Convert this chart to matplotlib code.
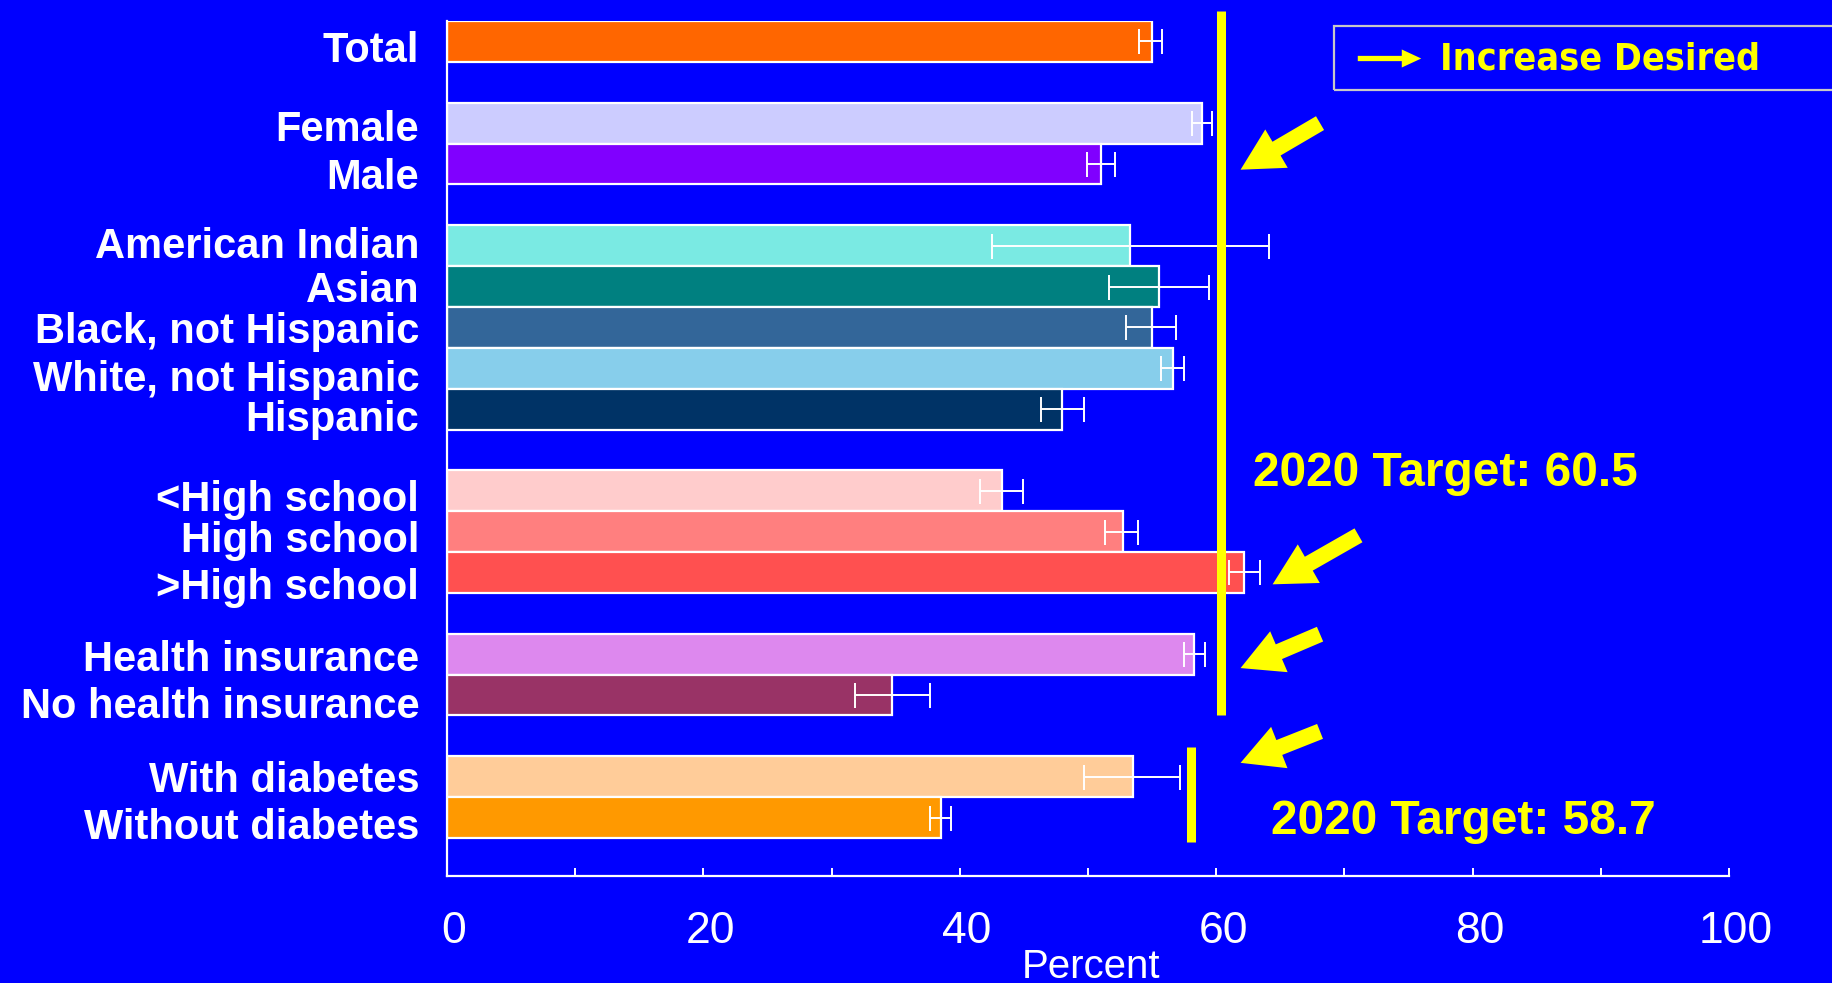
import matplotlib
matplotlib.use("Agg")
import matplotlib.pyplot as plt
import matplotlib.transforms as mtransforms
from matplotlib.patches import Rectangle, FancyArrowPatch
import numpy as np

# ---- data ----
categories = ["Total", "Female", "Male", "American Indian", "Asian",
              "Black, not Hispanic", "White, not Hispanic", "Hispanic",
              "<High school", "High school", ">High school",
              "Health insurance", "No health insurance",
              "With diabetes", "Without diabetes"]
positions = [0, 2, 3, 5, 6, 7, 8, 9, 11, 12, 13, 15, 16, 18, 19]
values = [55.0, 58.9, 51.0, 53.3, 55.5, 55.0, 56.6, 48.0,
          43.3, 52.7, 62.2, 58.3, 34.7, 53.5, 38.5]
ci_low = [54.0, 58.1, 49.9, 42.5, 51.6, 53.0, 55.7, 46.3,
          41.6, 51.3, 61.0, 57.5, 31.8, 49.7, 37.7]
ci_high = [55.8, 59.7, 52.1, 64.1, 59.4, 56.9, 57.5, 49.7,
           44.9, 53.9, 63.4, 59.1, 37.7, 57.2, 39.3]
colors = ["#FF6600", "#CCCCFF", "#8000FF", "#7AEAE3", "#008080",
          "#336699", "#87CEEB", "#003366", "#FFCCCC", "#FF7F7F",
          "#FF5050", "#DD88EE", "#993366", "#FFCC99", "#FF9900"]
target_labels = ["2020 Target: 60.5", "2020 Target: 58.7"]
target_line_x = [60.4, 58.0]
target_line_span = [(-0.74, 16.48), (17.28, 19.6)]
xticks = [0, 20, 40, 60, 80, 100]

# label vertical nudges (pixels, downward) - styling only
label_nudge_px = [5, 2, 10, -3, 0, 0, 7, 6, 5, 5, 11, 1, 7, 0, 6]

BG = "#0000FF"
YEL = "#FFFF00"

fig = plt.figure(figsize=(18.32, 9.83), dpi=100, facecolor=BG)
ax = fig.add_axes([447/1832, 1-876/983, (1729-447)/1832, (876-21)/983])
ax.set_facecolor(BG)

vals = np.array(values)
xerr = np.vstack([vals - np.array(ci_low), np.array(ci_high) - vals])
ax.barh(positions, values, height=1.0, color=colors, edgecolor="white",
        linewidth=1.6, zorder=2)
ax.errorbar(values, positions, xerr=xerr, fmt="none", ecolor="white",
            elinewidth=1.4, capsize=9, capthick=1.4, zorder=3)

ax.set_xlim(0, 100)
ax.set_ylim(20.43, -0.5)

for sp in ["top", "right"]:
    ax.spines[sp].set_visible(False)
for sp in ["left", "bottom"]:
    ax.spines[sp].set_color("white")
    ax.spines[sp].set_linewidth(1.6)

ax.set_xticks(xticks)
ax.set_xticks([10, 30, 50, 70, 90], minor=True)
ax.tick_params(axis="x", which="both", direction="in", length=6, width=1.4,
               colors="white", labelsize=32, pad=25)
ax.tick_params(axis="y", length=0, pad=20)
xoff = mtransforms.ScaledTranslation(7/100, 0, fig.dpi_scale_trans)
for lbl in ax.get_xticklabels():
    lbl.set_fontfamily("Liberation Sans")
    lbl.set_transform(lbl.get_transform() + xoff)

ax.set_yticks(positions)
ax.set_yticklabels(categories, fontsize=30, fontweight="bold", color="white",
                   fontfamily="Liberation Sans")
for lbl, nud in zip(ax.get_yticklabels(), label_nudge_px):
    off = mtransforms.ScaledTranslation(0, -nud/100, fig.dpi_scale_trans)
    lbl.set_transform(lbl.get_transform() + off)

ax.set_xlabel("Percent", fontsize=29, color="white",
              fontfamily="Liberation Sans", labelpad=-3)
ax.xaxis.label.set_transform(ax.xaxis.label.get_transform() +
                             mtransforms.ScaledTranslation(3/100, 0, fig.dpi_scale_trans))

# target lines
for xv, (y0, y1) in zip(target_line_x, target_line_span):
    ax.plot([xv, xv], [y0, y1], color=YEL, linewidth=6.5, clip_on=False,
            solid_capstyle="butt", zorder=4)

ax.text(62.9, 10.58, target_labels[0], color=YEL, fontsize=34.5,
        fontweight="bold", fontfamily="Liberation Sans", va="center", ha="left")
ax.text(64.3, 19.09, target_labels[1], color=YEL, fontsize=34.5,
        fontweight="bold", fontfamily="Liberation Sans", va="center", ha="left")

# big yellow arrows (tail -> tip)
arrows = [((68.1, 2.0), (61.9, 3.14)),
          ((71.1, 12.09), (64.4, 13.29)),
          ((68.1, 14.51), (61.9, 15.34)),
          ((68.1, 16.89), (61.9, 17.66))]
for tail, tip in arrows:
    ap = FancyArrowPatch(tail, tip, transform=ax.transData,
                         arrowstyle="simple,head_length=3.0,head_width=3.2,tail_width=1.15",
                         mutation_scale=10, color=YEL, linewidth=0,
                         shrinkA=0, shrinkB=0, clip_on=False, zorder=5)
    ax.add_patch(ap)

# legend-like box
rect = Rectangle((1334/1832, 1-90/983), 0.4, 64/983, transform=fig.transFigure,
                 facecolor="none", edgecolor="#C8C8C8", linewidth=1.6)
fig.patches.append(rect)
ly = 1 - 58.5/983
la = FancyArrowPatch((1355/1832, ly), (1424/1832, ly), transform=fig.transFigure,
                     arrowstyle="simple,head_length=1.4,head_width=1.3,tail_width=0.38",
                     mutation_scale=10, color=YEL, linewidth=0)
fig.patches.append(la)
fig.text(1440/1832, 1 - 60/983, "Increase Desired", color=YEL, fontsize=27,
         fontweight="bold", fontfamily="DejaVu Sans", fontstretch="condensed",
         va="center", ha="left")

fig.savefig("out.png", dpi=100, facecolor=BG)
